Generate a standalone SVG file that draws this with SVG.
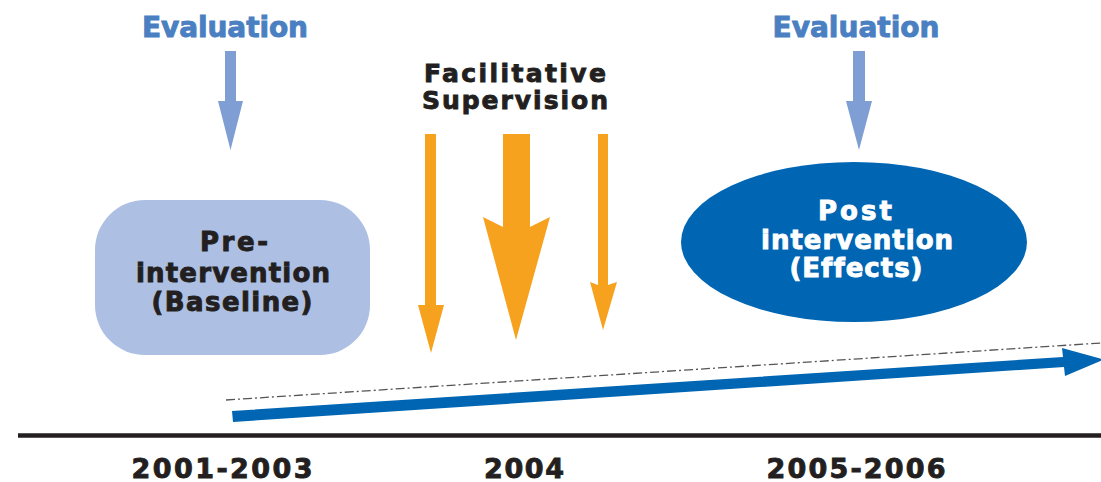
<svg xmlns="http://www.w3.org/2000/svg" width="1101" height="482" viewBox="0 0 1101 482">
<style>
.t{font-family:"DejaVu Sans","Liberation Sans",Arial,sans-serif;font-weight:bold;text-anchor:middle;font-variant-ligatures:none;}
.eval{fill:#4a7fc1;stroke:#4a7fc1;stroke-width:0.9;font-size:28px;}
.blk{fill:#231f20;stroke:#231f20;stroke-width:0.9;font-size:26px;}
.fs{font-size:25px;}
.wht{fill:#ffffff;stroke:#ffffff;stroke-width:0.9;font-size:26px;}
.yr{fill:#231f20;stroke:#231f20;stroke-width:0.9;font-size:27px;}
.ea{fill:#7f9fd4;}
.oa{fill:#f7a21e;}
</style>
<rect width="1101" height="482" fill="#ffffff"/>
<g id="eval-left">
<text class="t eval" x="225" y="37" textLength="166" lengthAdjust="spacing">Evaluation</text>
<polygon class="ea" points="225,51 236,51 236,101 243,101 230.5,150 218,101 225,101"/>
</g>
<g id="eval-right">
<text class="t eval" x="856" y="37" textLength="167" lengthAdjust="spacing">Evaluation</text>
<polygon class="ea" points="853,51 865,51 865,101 872,101 859,150 846,101 853,101"/>
</g>
<g id="facilitative">
<text class="t blk fs" x="515" y="82" textLength="182" lengthAdjust="spacing">Facilitative</text>
<text class="t blk fs" x="515" y="109" textLength="186" lengthAdjust="spacing">Supervision</text>
<polygon class="oa" points="425,134 436,134 436,305 444,305 431,353 418,305 425,305"/>
<polygon class="oa" points="503,134 530,134 530,227 550,217 516,340 483,217 503,227"/>
<polygon class="oa" points="598,134 608,134 608,285 617,282 603,330 590,282 598,285"/>
</g>
<g id="pre">
<rect x="95" y="200" width="275" height="155" rx="50" ry="50" fill="#adbfe3"/>
<text class="t blk" x="234" y="251" textLength="68" lengthAdjust="spacing">Pre-</text>
<text class="t blk" x="233" y="282" textLength="194" lengthAdjust="spacing">intervention</text>
<text class="t blk" x="232" y="311" textLength="161" lengthAdjust="spacing">(Baseline)</text>
</g>
<g id="post">
<ellipse cx="854" cy="242" rx="173" ry="80" fill="#0066b3"/>
<text class="t wht" x="855" y="220" textLength="74" lengthAdjust="spacing">Post</text>
<text class="t wht" x="857" y="249" textLength="192" lengthAdjust="spacing">intervention</text>
<text class="t wht" x="856" y="277" textLength="133" lengthAdjust="spacing">(Effects)</text>
</g>
<g id="connectors">
<line x1="226" y1="400" x2="1101" y2="343" stroke="#555555" stroke-width="1.3" stroke-dasharray="9,3,2,3"/>
<polygon fill="#0066b3" points="232,411 1063,357 1062,348 1104,359.5 1065,376 1064,367 233,422"/>
<line x1="18" y1="435.5" x2="1101" y2="435.5" stroke="#231f20" stroke-width="4.5"/>
</g>
<g id="years">
<text class="t yr" x="222" y="478" textLength="181" lengthAdjust="spacing">2001-2003</text>
<text class="t yr" x="524" y="478" textLength="80" lengthAdjust="spacing">2004</text>
<text class="t yr" x="856" y="478" textLength="179" lengthAdjust="spacing">2005-2006</text>
</g>
</svg>
